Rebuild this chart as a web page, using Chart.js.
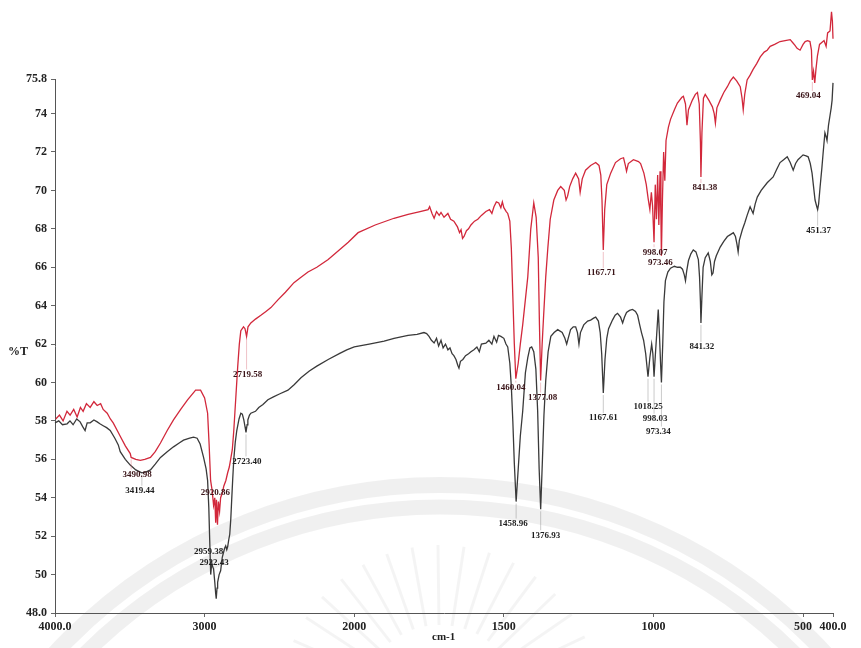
<!DOCTYPE html>
<html>
<head>
<meta charset="utf-8">
<title>FTIR spectra</title>
<script src="https://cdn.jsdelivr.net/npm/chart.js@4.4.0/dist/chart.umd.min.js"></script>
<style>
  html, body { margin: 0; padding: 0; background: #ffffff; }
  #wrap { width: 861px; height: 648px; }
</style>
</head>
<body>
<div id="wrap"><canvas id="ftir" width="861" height="648"></canvas></div>
<script>
// ---- Spectrum data (wavenumber in cm-1, transmittance in %T) ----
const redWavenumbers = [3995,3970,3946,3920,3899,3875,3852,3830,3812,3790,3765,3740,3718,3695,3678,3651,3630,3611,3577,3564,3530,3497,3490.98,3460,3430,3400,3362,3330,3295,3250,3208,3160,3114,3060,3027,3000,2980,2970,2960,2950,2940,2932,2926,2920.86,2914,2908,2900,2893,2880,2872,2858,2846,2835,2826,2815,2805,2790,2779,2768,2758,2740,2730,2719.58,2710,2691,2660,2624,2590,2557,2510,2460,2403,2360,2309,2250,2174,2100,2040,1987,1930,1867,1820,1780,1753,1748,1740,1733,1725,1716,1710,1700,1687,1678,1667,1655,1648,1643,1638,1633,1625,1618,1610,1598,1587,1575,1560,1548,1540,1533,1525,1517,1510,1505,1500,1492,1487,1480,1475,1470,1465,1460.04,1452,1445,1437,1420,1410,1400,1392,1385,1381,1377.08,1372,1367,1360,1353,1345,1333,1320,1310,1298,1292,1287,1280,1270,1260,1250,1245,1238,1227,1210,1193,1182,1176,1172,1167.71,1163,1156,1143,1127,1110,1100,1094,1090,1084,1067,1050,1043,1032,1024,1018,1012,1007,1003,998.07,994,990,986,982,978,975,973.46,970,966,962,958,950,943,930,920,905,900,893,888,883,870,860,853,847,843,841.38,838,833,827,815,803,797,793,788,777,765,753,743,733,722,710,704,700,695,687,677,667,655,643,630,620,610,595,577,560,543,535,527,520,510,500,493,485,477,472,469.04,465,461,457,452,445,430,423,418,410,405,402,400];
const redTransmittance = [58.1,58.3,58.0,58.5,58.3,58.6,58.2,58.7,58.5,58.9,58.7,59.0,58.8,58.9,58.6,58.4,58.1,57.9,57.4,57.2,56.7,56.3,56.1,56.0,55.95,56.0,56.1,56.4,56.85,57.5,58.05,58.6,59.1,59.6,59.6,59.2,58.4,56.8,54.9,54.4,53.6,54.0,52.7,53.9,52.6,53.8,53.3,54.0,54.3,54.6,54.9,55.3,55.6,56.0,56.5,57.5,59.4,60.8,62.0,62.7,62.9,62.8,62.4,62.9,63.1,63.3,63.5,63.7,63.9,64.3,64.7,65.2,65.45,65.75,66.0,66.4,66.9,67.3,67.8,68.2,68.55,68.75,68.9,69.0,69.15,68.8,68.55,68.9,68.7,68.85,68.6,68.8,68.5,68.4,68.1,67.8,67.95,67.5,67.6,67.9,68.0,68.2,68.4,68.5,68.7,68.9,69.0,68.8,69.15,69.4,69.35,69.1,69.4,69.1,68.9,68.8,68.4,67.0,64.5,62.0,60.2,61.0,62.0,63.0,65.5,68.0,69.35,68.6,66.5,63.0,60.1,62.0,63.5,65.5,67.0,68.5,69.5,70.0,70.2,70.0,69.5,69.7,70.2,70.6,70.9,70.6,69.9,70.6,71.05,71.3,71.45,71.3,70.8,69.5,66.9,69.0,70.3,70.9,71.45,71.65,71.7,71.3,71.0,71.4,71.6,71.5,71.4,70.9,70.3,69.6,69.0,69.9,69.2,67.3,70.3,68.5,70.8,68.2,71.0,68.5,66.6,69.5,72.0,70.5,72.6,73.3,73.7,74.2,74.55,74.85,74.9,74.5,73.4,74.2,74.7,75.0,75.1,74.5,72.5,70.7,73.0,74.8,75.0,74.7,74.35,74.0,73.5,74.3,74.7,75.1,75.4,75.7,75.9,75.7,75.4,74.8,74.2,75.0,75.75,76.0,76.3,76.6,76.95,77.2,77.3,77.5,77.6,77.75,77.8,77.85,77.7,77.55,77.4,77.3,77.6,77.75,77.8,77.75,77.3,75.75,76.2,75.6,76.3,77.0,77.6,77.8,77.5,78.2,78.3,79.3,78.8,77.9];

const blackWavenumbers = [4000,3975,3950,3919,3900,3879,3855,3832,3815,3799,3785,3765,3740,3718,3700,3678,3655,3631,3600,3577,3564,3530,3497,3460,3419.44,3390,3362,3330,3295,3250,3208,3170,3141,3100,3074,3050,3030,3007,2990,2980,2972,2966,2959.38,2952,2946,2940,2932,2926,2922.43,2917,2913,2903,2893,2882,2872,2865,2859,2852,2846,2839,2832,2825,2819,2812,2805,2795,2785,2770,2758,2748,2738,2730,2723.40,2716,2711,2700,2691,2660,2638,2610,2577,2540,2500,2443,2400,2356,2300,2250,2174,2100,2050,2000,1950,1900,1867,1820,1790,1767,1758,1750,1742,1733,1725,1718,1710,1703,1695,1687,1680,1673,1667,1660,1654,1650,1645,1637,1628,1618,1610,1600,1590,1582,1575,1560,1550,1540,1533,1524,1518,1510,1500,1493,1487,1480,1475,1470,1465,1458.96,1452,1445,1437,1428,1420,1413,1407,1400,1393,1387,1382,1376.93,1371,1366,1360,1352,1343,1332,1320,1305,1296,1290,1285,1277,1268,1260,1254,1249,1244,1233,1220,1210,1200,1193,1184,1178,1173,1167.61,1162,1156,1150,1137,1128,1120,1110,1103,1097,1090,1080,1070,1060,1053,1046,1040,1033,1026,1018.25,1012,1006,1002,998.03,993,988,984,980,976,973.34,969,965,960,952,943,930,920,910,903,897,893,889,883,875,867,858,850,846,843,841.32,838,834,827,817,810,805,801,796,790,777,765,753,743,733,726,721,717,713,703,695,687,677,667,660,653,640,620,600,588,577,565,553,543,533,525,517,500,490,483,476,470,465,460,455,451.37,448,443,437,433,427,423,420,415,410,406,403,400];
const blackTransmittance = [57.9,58.0,57.8,57.85,58.0,57.8,58.1,57.95,57.7,57.5,57.9,57.9,58.05,57.95,57.85,57.75,57.65,57.5,57.1,56.75,56.4,56.0,55.7,55.45,55.3,55.35,55.45,55.75,56.1,56.4,56.65,56.85,57.0,57.1,57.15,57.1,56.8,56.1,55.5,54.9,53.5,51.8,50.0,50.6,50.4,50.3,49.6,49.0,48.75,49.3,49.6,50.0,50.2,50.9,51.2,51.4,51.5,51.3,51.45,51.8,52.1,52.9,53.9,55.0,56.0,56.9,57.5,58.1,58.4,58.35,58.05,57.7,57.4,57.8,58.05,58.3,58.4,58.5,58.7,58.85,59.1,59.25,59.4,59.6,59.9,60.25,60.6,60.85,61.2,61.5,61.7,61.85,62.0,62.15,62.3,62.45,62.5,62.6,62.55,62.4,62.2,62.06,62.3,61.9,62.2,61.8,62.0,61.7,61.8,61.5,61.4,61.2,60.9,60.75,61.1,61.2,61.4,61.5,61.6,61.7,61.85,61.6,62.0,62.05,62.2,62.0,62.4,62.1,62.45,62.4,62.3,62.0,61.85,61.0,59.8,58.0,55.8,53.8,55.5,57.2,58.5,60.5,61.3,61.8,61.85,61.6,60.7,58.5,55.5,53.4,56.0,58.3,60.1,61.6,62.4,62.6,62.75,62.6,62.3,62.0,62.3,62.75,62.9,62.9,62.6,62.0,62.6,63.0,63.2,63.25,63.35,63.4,63.2,62.6,61.5,59.45,61.2,62.3,62.8,63.25,63.5,63.6,63.4,63.1,63.4,63.65,63.75,63.8,63.7,63.5,63.0,62.6,62.2,61.5,60.3,61.3,62.0,61.5,60.3,61.6,62.8,63.8,62.5,60.9,60.0,62.0,64.2,65.3,65.75,65.95,66.05,66.0,66.0,65.9,65.6,65.3,65.8,66.35,66.7,66.9,66.8,66.4,65.5,64.2,63.1,64.5,66.0,66.5,66.75,66.3,65.6,65.7,66.3,66.6,67.05,67.35,67.6,67.7,67.8,67.6,67.2,66.8,67.4,67.95,68.3,68.7,69.15,68.8,69.3,69.65,70.0,70.4,70.7,71.1,71.45,71.6,71.75,71.45,71.05,71.4,71.6,71.85,71.8,71.75,71.4,70.9,70.2,69.5,69.2,69.0,69.3,70.2,71.2,71.95,73.0,72.8,72.6,73.4,73.9,74.3,74.7,75.6];

// Axis ticks
const xTickValues = [4000, 3000, 2000, 1500, 1000, 500, 400];
const yTickValues = [48, 50, 52, 54, 56, 58, 60, 62, 64, 66, 68, 70, 72, 74, 75.8];

// Annotated band positions (cm-1) for each trace
const redPeaks = [3490.98, 2920.86, 2719.58, 1460.04, 1377.08, 1167.71, 998.07, 973.46, 841.38, 469.04];
const blackPeaks = [3419.44, 2959.38, 2922.43, 2723.40, 1458.96, 1376.93, 1167.61, 1018.25, 998.03, 973.34, 841.32, 451.37];

// Label placement offsets in pixels relative to the band minimum [dx, dy]
const redPeakOffsets = [[6,17],[-1,-7],[1,38],[-5,9],[2,17],[-2,23],[1,10],[-1,7],[4,11],[-4,16]];
const blackPeakOffsets = [[-2,18],[-2,-23],[-2,-36],[1,29],[-3,22],[5,26],[0,25],[0,30],[1,42],[-3,49],[1,24],[1,21]];

const RED = '#d2283b';
const BLACK = '#3a3a3a';

// ---- Wavenumber axis with the usual 2x expansion below 2000 cm-1 ----
const BREAK = 2000, HI = 4000, LO = 400;
const HI_SHARE = 300 / 780;   // share of the axis length used by 4000-2000
function wavenumberToDecimal(v) {
  if (v >= BREAK) return (HI - v) / (HI - BREAK) * HI_SHARE;
  return HI_SHARE + (BREAK - v) / (BREAK - LO) * (1 - HI_SHARE);
}
function decimalToWavenumber(d) {
  if (d <= HI_SHARE) return HI - d / HI_SHARE * (HI - BREAK);
  return BREAK - (d - HI_SHARE) / (1 - HI_SHARE) * (BREAK - LO);
}
class SplitWavenumberScale extends Chart.LinearScale {
  getPixelForValue(value) {
    return this.getPixelForDecimal(wavenumberToDecimal(value));
  }
  getValueForPixel(pixel) {
    return decimalToWavenumber(this.getDecimalForPixel(pixel));
  }
}
SplitWavenumberScale.id = 'splitWavenumber';
SplitWavenumberScale.defaults = Chart.LinearScale.defaults;
Chart.register(SplitWavenumberScale);

function toPoints(xs, ys) { return xs.map((x, i) => ({ x: x, y: ys[i] })); }

const axisFont = { family: '"Liberation Serif", "Times New Roman", serif', size: 12, weight: 'bold' };

// Faint round emblem printed behind the plot
const emblemPlugin = {
  id: 'emblem',
  beforeDraw(chart) {
    const ctx = chart.ctx;
    ctx.save();
    ctx.fillStyle = '#ffffff';
    ctx.fillRect(0, 0, chart.width, chart.height);
    ctx.strokeStyle = 'rgba(0,0,0,0.06)';
    ctx.lineWidth = 16;
    ctx.beginPath(); ctx.arc(440, 1010, 525, Math.PI, 2 * Math.PI); ctx.stroke();
    ctx.lineWidth = 15;
    ctx.beginPath(); ctx.arc(440, 1010, 503, Math.PI, 2 * Math.PI); ctx.stroke();
    ctx.strokeStyle = 'rgba(0,0,0,0.045)';
    ctx.lineWidth = 3;
    for (let k = 0; k < 17; k++) {
      const a = Math.PI * (1.08 + k * 0.052);
      ctx.beginPath();
      ctx.moveTo(440 + Math.cos(a) * 80, 705 + Math.sin(a) * 80);
      ctx.lineTo(440 + Math.cos(a) * 160, 705 + Math.sin(a) * 160);
      ctx.stroke();
    }
    ctx.restore();
  }
};

// Axis captions and band annotations
const annotationPlugin = {
  id: 'bandLabels',
  afterDatasetsDraw(chart) {
    const ctx = chart.ctx;
    const xs = chart.scales.x, ys = chart.scales.y;
    ctx.save();
    ctx.font = 'bold 12px "Liberation Serif", serif';
    ctx.fillStyle = '#222';
    ctx.textAlign = 'center';
    ctx.textBaseline = 'middle';
    ctx.fillText('%T', 18, 352);
    ctx.font = 'bold 11px "Liberation Serif", serif';
    ctx.textAlign = 'left';
    ctx.fillText('cm-1', 432, 637);

    function drawSet(peaks, offsets, wns, vals, textColor, guideColor) {
      peaks.forEach((wn, i) => {
        const idx = wns.indexOf(wn);
        const px = xs.getPixelForValue(wn);
        const py = ys.getPixelForValue(vals[idx]);
        const [dx, dy] = offsets[i];
        const lx = px + dx, ly = py + dy;
        if (dy > 8) {
          ctx.strokeStyle = guideColor;
          ctx.lineWidth = 1;
          ctx.beginPath();
          ctx.moveTo(px, py + 2);
          ctx.lineTo(px, ly - 5);
          ctx.stroke();
        }
        ctx.font = 'bold 9px "Liberation Serif", serif';
        ctx.textAlign = 'center';
        ctx.textBaseline = 'middle';
        ctx.fillStyle = textColor;
        ctx.fillText(wn.toFixed(2), lx, ly);
      });
    }
    drawSet(blackPeaks, blackPeakOffsets, blackWavenumbers, blackTransmittance, '#1e1e1e', 'rgba(140,140,140,0.45)');
    drawSet(redPeaks, redPeakOffsets, redWavenumbers, redTransmittance, '#3a1418', 'rgba(220,120,130,0.45)');
    ctx.restore();
  }
};

new Chart(document.getElementById('ftir'), {
  type: 'line',
  data: {
    datasets: [
      {
        label: 'red trace',
        data: toPoints(redWavenumbers, redTransmittance),
        borderColor: RED,
        borderWidth: 1.3,
        pointRadius: 0,
        tension: 0,
        clip: false
      },
      {
        label: 'black trace',
        data: toPoints(blackWavenumbers, blackTransmittance),
        borderColor: BLACK,
        borderWidth: 1.3,
        pointRadius: 0,
        tension: 0,
        clip: false
      }
    ]
  },
  options: {
    responsive: false,
    animation: false,
    devicePixelRatio: 1,
    layout: { padding: { top: 79, right: 28, left: 0, bottom: 0 } },
    plugins: { legend: { display: false }, tooltip: { enabled: false } },
    scales: {
      x: {
        type: 'splitWavenumber',
        min: LO,
        max: HI,
        afterBuildTicks: (s) => { s.ticks = xTickValues.map(v => ({ value: v })); },
        afterFit: (s) => { s.height = 35; s.paddingLeft = 0; s.paddingRight = 0; },
        ticks: {
          autoSkip: false,
          maxRotation: 0,
          padding: 3,
          color: '#222',
          font: axisFont,
          callback: (v) => (v === HI || v === LO) ? v.toFixed(1) : String(v)
        },
        grid: { drawOnChartArea: false, drawTicks: true, tickLength: 4, color: '#666' },
        border: { display: true, color: '#555', width: 1 }
      },
      y: {
        min: 48,
        max: 75.8,
        afterBuildTicks: (s) => { s.ticks = yTickValues.map(v => ({ value: v })); },
        afterFit: (s) => { s.width = 55; s.paddingTop = 0; s.paddingBottom = 0; },
        ticks: {
          autoSkip: false,
          padding: 4,
          color: '#222',
          font: axisFont,
          callback: (v) => v === 48 ? '48.0' : String(v)
        },
        grid: { drawOnChartArea: false, drawTicks: true, tickLength: 4, color: '#666' },
        border: { display: true, color: '#555', width: 1 }
      }
    }
  },
  plugins: [emblemPlugin, annotationPlugin]
});
</script>
</body>
</html>
